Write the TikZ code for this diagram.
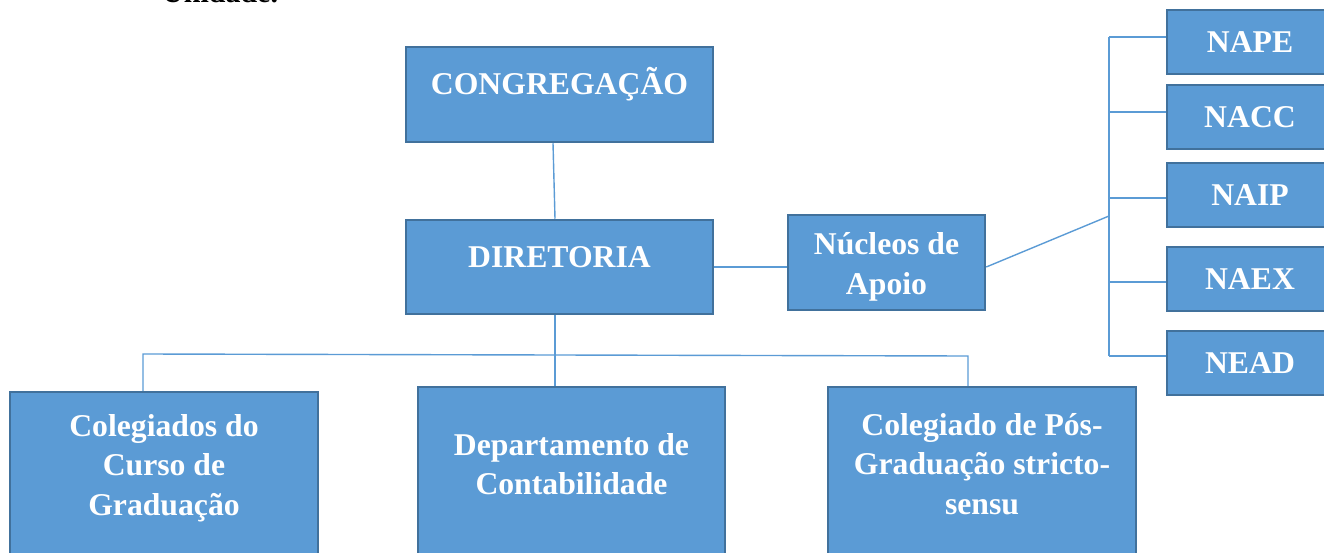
\documentclass[tikz,border=0pt]{standalone}
\usepackage{fontspec}
\setmainfont{Liberation Serif}
\definecolor{boxfill}{HTML}{5B9BD5}
\definecolor{boxline}{HTML}{41719C}
\definecolor{linkblue}{HTML}{5B9BD5}
\begin{document}
\begin{tikzpicture}[x=1pt,y=-1pt,
  box/.style={draw=boxline, line width=2.5pt, fill=boxfill, inner sep=0pt},
  lbl/.style={text=white, font=\bfseries\fontsize{31.7}{39.5}\selectfont, align=center, inner sep=0pt},
  conn/.style={draw=linkblue, line width=1.4pt}]
\useasboundingbox (0,0) rectangle (1324,553);
\clip (0,0) rectangle (1324,553);
% title fragment
\node[anchor=base west, inner sep=0pt, font=\bfseries\fontsize{30}{36}\selectfont] (unid) at (162,3) {Unidade.};
% boxes
\node[box, minimum width=307pt, minimum height=95pt] (cong) at (559.5,94.5) {};
\node[lbl] (congt) at (559.5,84) {CONGREGAÇÃO};
\node[box, minimum width=307pt, minimum height=94pt] (dir) at (559.5,267) {};
\node[lbl] (dirt) at (559.5,257) {DIRETORIA};
\node[box, minimum width=197pt, minimum height=95pt] (nuc) at (886.5,262.5) {};
\node[lbl] (nuct) at (886.5,267) {Núcleos de\\Apoio};
% right column
\node[box, minimum width=166pt, minimum height=64pt] (nape) at (1250,42) {};
\node[lbl] (napet) at (1250,42) {NAPE};
\node[box, minimum width=166pt, minimum height=64pt] (nacc) at (1250,117) {};
\node[lbl] (nacct) at (1250,117) {NACC};
\node[box, minimum width=166pt, minimum height=64pt] (naip) at (1250,195) {};
\node[lbl] (naipt) at (1250,195) {NAIP};
\node[box, minimum width=166pt, minimum height=64pt] (naex) at (1250,279) {};
\node[lbl] (naext) at (1250,279) {NAEX};
\node[box, minimum width=166pt, minimum height=64pt] (nead) at (1250,363) {};
\node[lbl] (neadt) at (1250,363) {NEAD};
% bottom row
\node[box, minimum width=308pt, minimum height=200pt] (col) at (164,492) {};
\node[lbl] (colt) at (164,468) {Colegiados do\\Curso de\\Graduação};
\node[box, minimum width=307pt, minimum height=200pt] (dep) at (571.5,487) {};
\node[lbl] (dept) at (571.5,464) {Departamento de\\Contabilidade};
\node[box, minimum width=308pt, minimum height=200pt] (pos) at (982,487) {};
\node[lbl] (post) at (982,464) {Colegiado de Pós-\\Graduação stricto-\\sensu};
% connector coordinates
\coordinate (vtop) at (553,0);
\coordinate (vmid) at (555,0);
\coordinate (busL) at (143,354);
\coordinate (busR) at (968,356);
\coordinate (brT) at (1109,37);
\coordinate (b2) at (1109,112);
\coordinate (b3) at (1109,198);
\coordinate (b4) at (1109,282);
\coordinate (brB) at (1109,356);
\coordinate (brM) at (1109,216);
% connectors
\draw[conn] (vtop |- cong.south) -- (vmid |- dir.north);
\draw[conn] (dir.east) -- (dir.east -| nuc.west);
\draw[conn] (vmid |- dir.south) -- (vmid |- dep.north);
\draw[conn] (busL |- col.north) -- (busL) -- (busR) -- (busR |- pos.north);
\draw[conn] ([yshift=-4.5pt]nuc.east) -- (brM);
\draw[conn] (brT) -- (brB);
\draw[conn] (brT) -- (brT -| nape.west);
\draw[conn] (b2) -- (b2 -| nacc.west);
\draw[conn] (b3) -- (b3 -| naip.west);
\draw[conn] (b4) -- (b4 -| naex.west);
\draw[conn] (brB) -- (brB -| nead.west);
\end{tikzpicture}
\end{document}
